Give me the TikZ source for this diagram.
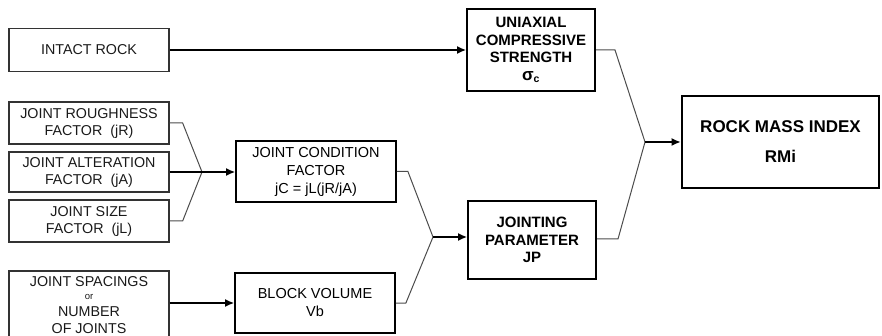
\documentclass[tikz,border=0pt]{standalone}
\usepackage{fontspec}
\setmainfont{Liberation Sans}
\usetikzlibrary{arrows.meta}
\tikzset{
  inbox/.style={draw=black!80, line width=1.3pt, inner sep=0pt, minimum width=160pt, align=center, text=black!90, font=\fontsize{14.3}{17}\selectfont},
  midbox/.style={draw, line width=1.8pt, inner sep=0pt, minimum width=160pt, minimum height=60pt, align=center, text=black, font=\fontsize{14.5}{18}\selectfont},
  outbox/.style={draw, line width=2pt, inner sep=0pt, minimum width=128pt, align=center, font=\fontsize{15}{17.5}\selectfont\bfseries},
  link/.style={draw=black!70, line width=1pt},
  feed/.style={line width=1.3pt, -{Latex[length=9pt,width=8pt]}}
}

\begin{document}
\begin{tikzpicture}[x=1pt,y=-1pt]
        \useasboundingbox (0,0) rectangle (882,336);
        \node[inbox, minimum height=43pt] (intact) at (89,50) {INTACT ROCK};
        \node[inbox, minimum height=42pt] (jr) at (89,123) {JOINT ROUGHNESS\\FACTOR\ \ (jR)};
        \node[inbox, minimum height=40pt] (ja) at (89,172) {JOINT ALTERATION\\FACTOR\ \ (jA)};
        \node[inbox, minimum height=42pt] (jl) at (89,221) {JOINT SIZE\\FACTOR\ \ (jL)};
        \node[inbox, minimum height=68pt] (spacing) at (89,305) {JOINT SPACINGS\\[-4pt]{\fontsize{9.5}{10}\selectfont or}\\NUMBER\\OF JOINTS};
        \node[midbox, minimum height=61pt] (jcf) at (316,171.5) {JOINT CONDITION\\FACTOR\\jC = jL(jR/jA)};
        \node[midbox] (bv) at (315,303) {BLOCK VOLUME\\Vb};
        \node[outbox, minimum height=82pt] (ucs) at (531,50) {UNIAXIAL\\COMPRESSIVE\\STRENGTH\\{\fontsize{17}{17.5}\selectfont σ}\textsubscript{c}};
        \node[outbox, minimum height=78pt] (jp) at (532,240) {JOINTING\\PARAMETER\\JP};
        \node[draw, line width=2.8pt, inner sep=0pt, minimum width=197pt, minimum height=92pt, align=center, font=\fontsize{17}{20}\selectfont\bfseries] (rmi) at (780.5,142) {ROCK MASS INDEX\\[10pt]RMi};
        \coordinate (m1) at (202,172);
        \coordinate (m2) at (433,237);
        \coordinate (m3) at (645,142);
        \draw[feed] (intact.east) -- (intact.east -| ucs.west);
        \foreach \n in {jr,jl} \draw[link] (\n.east) -- ++(13,0) -- (m1);
        \draw[feed] (ja.east) -- (jcf.west |- ja.east);
        \draw[link] (jcf.east) -- ++(11,0) -- (m2);
        \draw[link] (bv.east) -- ++(10,0) -- (m2);
        \draw[feed] (spacing.east |- bv.west) -- (bv.west);
        \draw[feed] (m2) -- (jp.west |- m2);
        \draw[link] (ucs.east) -- ++(19,0) -- (m3);
        \draw[link] (jp.east) ++(0,-1) -- ++(21,0) -- (m3);
        \draw[feed] (m3) -- (rmi.west |- m3);
    \end{tikzpicture}
\end{document}
